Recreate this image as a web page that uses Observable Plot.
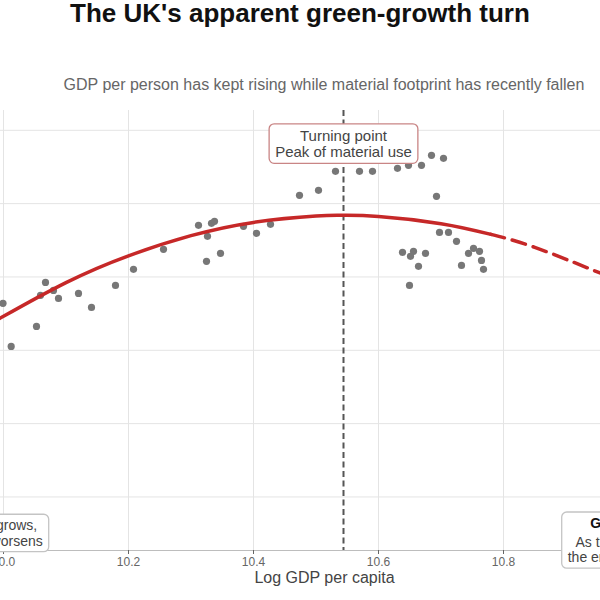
<!DOCTYPE html>
<html>
<head>
<meta charset="utf-8">
<script src="https://cdn.jsdelivr.net/npm/d3@7"></script>
<script src="https://cdn.jsdelivr.net/npm/@observablehq/plot@0.6"></script>
<style>
  html, body { margin: 0; padding: 0; background: #fff; }
  #fig { position: relative; width: 600px; height: 600px; overflow: hidden; background: #fff;
         font-family: "Liberation Sans", Arial, sans-serif; }
  #title { position: absolute; top: 0; left: 0; width: 600px; text-align: center;
           font-weight: bold; font-size: 26px; line-height: 26px; color: #111; }
  #subtitle { position: absolute; top: 77px; left: 0; width: 648px; text-align: center;
              font-size: 16px; line-height: 16px; color: #666; }
  #chart { position: absolute; left: -160px; top: 100px; width: 948px; height: 500px; }
  #chart svg { max-width: none !important; }
</style>
</head>
<body>
<div id="fig">
  <div id="title">The UK's apparent green-growth turn</div>
  <div id="subtitle">GDP per person has kept rising while material footprint has recently fallen</div>
  <div id="chart"></div>
</div>
<script>
// Yearly observations: log GDP per capita vs log material footprint per capita
const logGdp = [
  9.9992, 10.0123, 10.0528, 10.0592, 10.0672, 10.0800, 10.0880, 10.1200, 10.1408, 10.1792,
  10.2080, 10.2560, 10.3120, 10.3248, 10.3264, 10.3328, 10.3376, 10.3472, 10.3840, 10.4048,
  10.4272, 10.4736, 10.5040, 10.5312, 10.5696, 10.5904, 10.6304, 10.6480, 10.6688, 10.6848,
  10.7040, 10.6928, 10.6976, 10.7120, 10.7248, 10.6384, 10.6560, 10.6512, 10.6752, 10.6640,
  10.6496, 10.7328, 10.7520, 10.7440, 10.7616, 10.7648, 10.7680
];
const logFootprint = [
  2.6640, 2.6053, 2.6326, 2.6749, 2.6926, 2.6817, 2.6708, 2.6776, 2.6585, 2.6885,
  2.7104, 2.7377, 2.7704, 2.7213, 2.7554, 2.7731, 2.7759, 2.7322, 2.7690, 2.7595,
  2.7718, 2.8113, 2.8181, 2.8441, 2.8441, 2.8441, 2.8482, 2.8523, 2.8523, 2.8659,
  2.8618, 2.8100, 2.7608, 2.7608, 2.7486, 2.7336, 2.7349, 2.7281, 2.7322, 2.7145,
  2.6885, 2.7158, 2.7390, 2.7322, 2.7349, 2.7226, 2.7104
];

// Quadratic trend: observed range (solid) and projection beyond it (dashed)
const trendX      = [9.990, 10.0, 10.1, 10.2, 10.3, 10.4, 10.5, 10.544, 10.6, 10.7, 10.78];
const trendY      = [2.6412, 2.6463, 2.6923, 2.7289, 2.7563, 2.7744, 2.7831, 2.7840, 2.7825, 2.7727, 2.7581];
const projectionX = [10.78, 10.85, 10.96];
const projectionY = [2.7581, 2.7404, 2.7035];

// Turning point of the trend (peak of material use)
const turningPointX = 10.544;

// Axis setup
const xDomain = [9.8352, 11.192];
const yDomain = [2.327, 2.927];
const xTicks = [10.0, 10.2, 10.4, 10.6, 10.8];
const yTicks = [2.4, 2.5, 2.6, 2.7, 2.8, 2.9];

const points = logGdp.map((x, i) => ({x, y: logFootprint[i]}));
const trend = trendX.map((x, i) => ({x, y: trendY[i]}));
const projection = projectionX.map((x, i) => ({x, y: projectionY[i]}));

const red = "#c62828";
const ink = "#444";

const plot = Plot.plot({
  width: 948,
  height: 500,
  marginLeft: 60,
  marginRight: 40,
  marginTop: 10,
  marginBottom: 50,
  style: {fontFamily: "'Liberation Sans', Arial, sans-serif", fontSize: "12px", background: "transparent", maxWidth: "none"},
  x: {domain: xDomain},
  y: {domain: yDomain},
  marks: [
    Plot.gridX(xTicks, {stroke: "#e4e4e4", strokeOpacity: 1}),
    Plot.gridY(yTicks, {stroke: "#e4e4e4", strokeOpacity: 1}),
    Plot.ruleY([yDomain[0]], {stroke: "#bdbdbd"}),
    Plot.axisX(xTicks, {tickFormat: d3.format(".1f"), tickSize: 4, tickPadding: 3, color: "#666", label: null}),
    Plot.text(["Log GDP per capita"], {frameAnchor: "bottom", dy: 32, fontSize: 16, fill: ink}),
    Plot.ruleX([turningPointX], {stroke: "#555", strokeWidth: 2, strokeDasharray: "6,3.5"}),
    Plot.dot(points, {x: "x", y: "y", r: 3.6, fill: "#777", stroke: null}),
    Plot.line(trend, {x: "x", y: "y", curve: "natural", stroke: red, strokeWidth: 3.5}),
    Plot.line(projection, {x: "x", y: "y", curve: "natural", stroke: red, strokeWidth: 3.5, strokeDasharray: "14,8"}),
    Plot.text(["Turning point\nPeak of material use"], {
      x: turningPointX, y: 2.8816, fontSize: 15, lineHeight: 1.1, fill: ink, ariaDescription: "turning-note"
    }),
    Plot.text(["As the economy grows,\nthe environment worsens"], {
      x: 9.9376, y: 2.3508, fontSize: 14, lineHeight: 1.1, fill: ink, ariaDescription: "growth-note"
    }),
    Plot.text(["Green growth era"], {
      x: 11.0316, y: 2.3638, fontSize: 14, fontWeight: "bold", fill: "#111", ariaDescription: "green-note"
    }),
    Plot.text(["As the economy grows,\nthe environment improves"], {
      x: 11.0316, y: 2.3283, fontSize: 14, lineHeight: 1.1, fill: ink, ariaDescription: "green-note"
    })
  ]
});

document.getElementById("chart").append(plot);

// Rounded boxes behind the annotation texts, sized to the rendered text
const svgRect = plot.getBoundingClientRect();
const boxes = [["turning-note", "#c98585"], ["growth-note", "#c4c4c4"], ["green-note", "#c4c4c4"]];
for (const [name, stroke] of boxes) {
  const groups = [...plot.querySelectorAll(`g[aria-description="${name}"]`)];
  if (!groups.length) continue;
  let x0 = Infinity, y0 = Infinity, x1 = -Infinity, y1 = -Infinity;
  for (const g of groups) {
    const r = g.getBoundingClientRect();
    x0 = Math.min(x0, r.left); y0 = Math.min(y0, r.top);
    x1 = Math.max(x1, r.right); y1 = Math.max(y1, r.bottom);
  }
  const padX = 6, padY = 3;
  const rect = document.createElementNS("http://www.w3.org/2000/svg", "rect");
  rect.setAttribute("x", x0 - svgRect.left - padX);
  rect.setAttribute("y", y0 - svgRect.top - padY);
  rect.setAttribute("width", x1 - x0 + 2 * padX);
  rect.setAttribute("height", y1 - y0 + 2 * padY);
  rect.setAttribute("rx", 5);
  rect.setAttribute("fill", "#fff");
  rect.setAttribute("stroke", stroke);
  rect.setAttribute("stroke-width", 1.3);
  groups[0].parentNode.insertBefore(rect, groups[0]);
}
</script>
</body>
</html>
